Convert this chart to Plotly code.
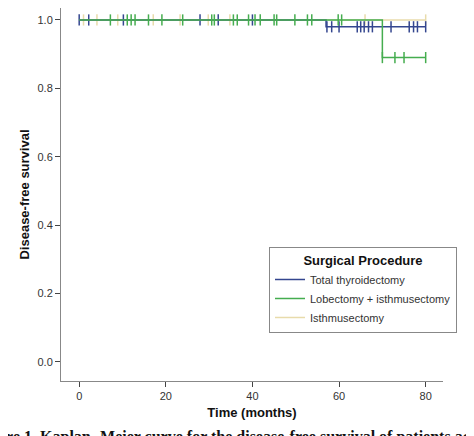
import numpy as np
import plotly.graph_objects as go

groups = ["Total thyroidectomy", "Lobectomy + isthmusectomy", "Isthmusectomy"]
colors = ["#34468f", "#45ad4f", "#e8dbab"]

# Kaplan-Meier step points (time, survival)
total_t = [0, 57, 80]
total_s = [1.0, 0.98, 0.98]
lobe_t = [0, 70, 80]
lobe_s = [1.0, 0.89, 0.89]
isth_t = [0, 80]
isth_s = [1.0, 1.0]

# censored times
total_c = [0, 2.2, 10.2, 27.9, 32.1, 40.0, 57.2, 58.3, 60.0, 64.2, 65.0, 65.8,
           66.8, 67.7, 72.0, 76.2, 77.2, 78.1, 80.0]
lobe_c = [7.2, 11.1, 12.0, 12.9, 16.0, 19.1, 23.9, 30.6, 31.2, 35.6, 36.5, 39.1,
          40.6, 41.8, 45.0, 45.6, 49.8, 52.7, 53.7, 59.8, 60.6, 70.0, 72.9, 75.0, 80.0]
isth_c = [1.0, 4.1, 8.9, 17.1, 23.3, 29.8, 34.8, 66.0, 80.0]

x_ticks = [0, 20, 40, 60, 80]
y_ticks = [0.0, 0.2, 0.4, 0.6, 0.8, 1.0]


def step_eval(t, s, q):
    idx = np.searchsorted(np.array(t), np.array(q), side="right") - 1
    return list(np.array(s)[idx])


fig = go.Figure()
series = [(isth_t, isth_s, isth_c, 2), (total_t, total_s, total_c, 0), (lobe_t, lobe_s, lobe_c, 1)]
for t, s, c, gi in series:
    fig.add_trace(go.Scatter(x=t, y=s, mode="lines", line=dict(color=colors[gi], width=1.5, shape="hv"),
                             showlegend=False, hoverinfo="skip"))
    fig.add_trace(go.Scatter(x=c, y=step_eval(t, s, c), mode="markers",
                             marker=dict(symbol="line-ns", size=8, line=dict(color=colors[gi], width=1.5)),
                             showlegend=False, hoverinfo="skip"))

for gi, name in enumerate(groups):
    fig.add_trace(go.Scatter(x=[None], y=[None], mode="lines", name=name,
                             line=dict(color=colors[gi], width=1.5, shape="hv")))

fig.update_layout(
    width=474, height=436,
    margin=dict(l=53, r=39, t=0, b=63, autoexpand=False),
    paper_bgcolor="white", plot_bgcolor="white",
    font=dict(family="Liberation Sans, Arial", size=11, color="#333"),
    xaxis=dict(range=[-4.2, 84], tickvals=x_ticks, showgrid=False, zeroline=False, automargin=False,
               showline=True, linecolor="#888", linewidth=1, ticks="outside", ticklen=5,
               tickcolor="#444", tickfont=dict(size=11, color="#333"),
               title=dict(text="<b>Time (months)</b>", font=dict(size=13, color="#111"), standoff=6)),
    yaxis=dict(range=[-0.056, 1.035], tickvals=y_ticks, tickformat=".1f", showgrid=False, zeroline=False,
               automargin=False,
               showline=True, linecolor="#888", linewidth=1, ticks="outside", ticklen=5,
               tickcolor="#444", tickfont=dict(size=11, color="#333"),
               title=dict(text="<b>Disease-free survival</b>", font=dict(size=13, color="#111"), standoff=4)),
    legend=dict(x=0.5445, y=0.359, xanchor="left", yanchor="top",
                bgcolor="white", bordercolor="#888", borderwidth=1,
                font=dict(size=11, color="#333"), itemwidth=30,
                title=dict(text="<b>Surgical Procedure</b>", side="top center", font=dict(size=13, color="#111"))),
    annotations=[dict(xref="paper", yref="paper", x=-0.231, y=-0.12, xanchor="left", yanchor="top",
                      showarrow=False,
                      text="<b>Figure 1. Kaplan- Meier curve for the disease-free survival of patients according to surgical procedure</b>",
                      font=dict(family="Liberation Serif, Times New Roman", size=16, color="#111"))],
)

fig.write_html("out.html")
